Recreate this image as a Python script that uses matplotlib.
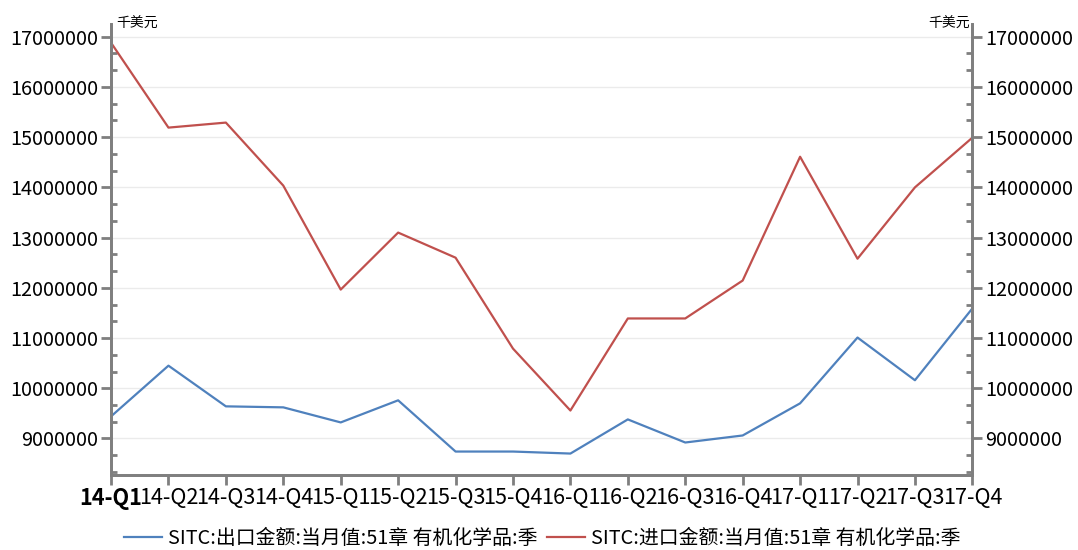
import matplotlib
matplotlib.use('Agg')
import matplotlib.pyplot as plt
from matplotlib.ticker import MultipleLocator, FuncFormatter

plt.rcParams['font.family'] = ['Noto Sans CJK SC', 'DejaVu Sans']

quarters = ['14-Q1', '14-Q2', '14-Q3', '14-Q4', '15-Q1', '15-Q2', '15-Q3', '15-Q4',
            '16-Q1', '16-Q2', '16-Q3', '16-Q4', '17-Q1', '17-Q2', '17-Q3', '17-Q4']
export_vals = [9440000, 10450000, 9640000, 9620000, 9320000, 9760000, 8740000, 8740000,
               8700000, 9380000, 8920000, 9060000, 9700000, 11010000, 10160000, 11590000]
import_vals = [16880000, 15190000, 15290000, 14035000, 11965000, 13100000, 12600000, 10790000,
               9557000, 11390000, 11390000, 12145000, 14610000, 12580000, 14000000, 14990000]
export_name = 'SITC:出口金额:当月值:51章 有机化学品:季'
import_name = 'SITC:进口金额:当月值:51章 有机化学品:季'
unit = '千美元'

spine_c = '#7f7f7f'
ylo, yhi = 8280000, 17260000
fs = 14.3

fig = plt.figure(figsize=(10.78, 5.5), dpi=100)
ax = fig.add_axes([0.103, 0.137, 0.799, 0.82])
x = list(range(len(quarters)))
ax.plot(x, export_vals, color='#4f81bd', lw=1.6, label=export_name)
ax.plot(x, import_vals, color='#c0504d', lw=1.6, label=import_name)

ax.set_xlim(0, len(quarters) - 1)
ax.set_ylim(ylo, yhi)
ax.set_xticks(x)
ax.set_xticklabels(quarters, fontsize=15.6)
ax.get_xticklabels()[0].set_fontweight('bold')
ax.grid(axis='y', which='major', color='#ebebeb', lw=1)
ax.set_axisbelow(True)

ax2 = ax.twinx()
ax2.set_ylim(ylo, yhi)

for a in (ax, ax2):
    a.yaxis.set_major_locator(MultipleLocator(1000000))
    a.yaxis.set_minor_locator(MultipleLocator(1000000 / 3))
    a.yaxis.set_major_formatter(FuncFormatter(lambda v, p: '%d' % round(v)))
    a.spines['top'].set_visible(False)
    for s in ('left', 'right', 'bottom'):
        a.spines[s].set_color(spine_c)
        a.spines[s].set_linewidth(2)
    a.tick_params(axis='y', which='major', direction='out', length=7, width=2,
                  color=spine_c, labelsize=fs, pad=2)
    a.tick_params(axis='y', which='minor', direction='in', length=4, width=2, color=spine_c)
ax.yaxis.set_ticks_position('left')
ax2.yaxis.set_ticks_position('right')
ax.tick_params(axis='x', direction='out', length=7, width=2, color=spine_c, pad=2)

ax.text(0.006, 1.0, unit, transform=ax.transAxes, fontsize=10, ha='left', va='center')
ax.text(0.997, 1.0, unit, transform=ax.transAxes, fontsize=10, ha='right', va='center')

fig.legend(loc='lower center', bbox_to_anchor=(0.503, -0.03), ncol=2, frameon=False,
           fontsize=fs, handlelength=1.9, handletextpad=0.3, columnspacing=0.5)

fig.savefig('out.png', dpi=100)
